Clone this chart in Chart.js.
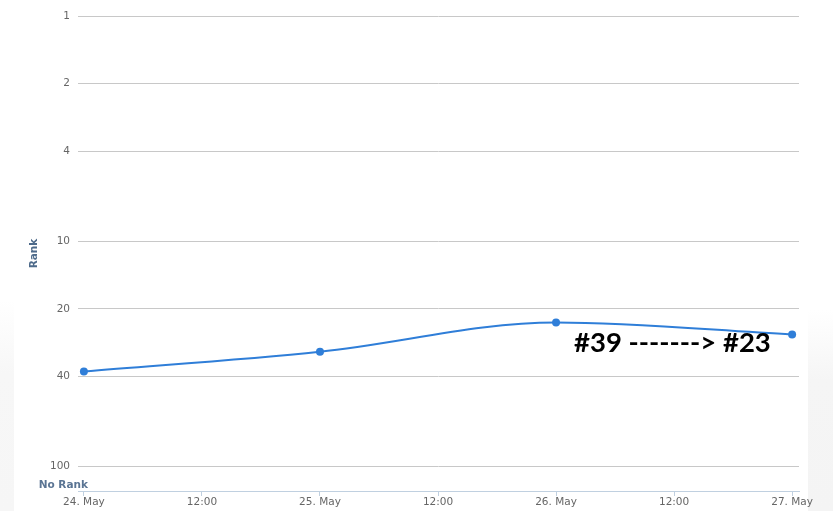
<!DOCTYPE html>
<html>
<head>
    <title>Rank</title>
    <script src="https://cdn.jsdelivr.net/npm/chart.js"></script>
    <style>
        body { margin: 0; background: #fff; }
        .wrap { position: relative; width: 833px; height: 511px; overflow: hidden; }
        .shade-right { position: absolute; left: 808px; top: 310px; width: 25px; height: 201px;
            background: linear-gradient(to bottom, #fff, #f5f5f5 35%, #f4f4f4); }
        .shade-left { position: absolute; left: 0; top: 300px; width: 14px; height: 211px;
            background: linear-gradient(to bottom, #fff, #f7f7f7 35%, #f6f6f6); }
        canvas { position: absolute; left: 0; top: 0; }
        .note { position: absolute; left: 574px; top: 325px; font-family: Lato, sans-serif;
            font-weight: bold; font-size: 27.5px; color: #000; white-space: nowrap; }
    </style>
</head>
<body>
    <div class="wrap">
        <div class="shade-right"></div>
        <div class="shade-left"></div>
        <canvas id="myChart" width="833" height="511"></canvas>
        <div class="note">#39 -------&gt; #23</div>
    </div>

    <script>
        // datos (horas desde 24. May)
        const hours = [0, 24, 48, 72];
        const ranks = [38, 31, 23, 26];
        const xTickValues = [0, 12, 24, 36, 48, 60, 72];
        const xTickLabels = ['24. May', '12:00', '25. May', '12:00', '26. May', '12:00', '27. May'];
        const yTickValues = [1, 2, 4, 10, 20, 40, 100];
        const noRankValue = 120;

        // etiqueta "No Rank" bajo el 100
        const noRankLabel = {
            id: 'noRankLabel',
            afterDraw(chart) {
                const y = chart.scales.y;
                const ctx = chart.ctx;
                ctx.save();
                ctx.font = 'bold 10.5px "DejaVu Sans"';
                ctx.fillStyle = '#5a7493';
                ctx.textAlign = 'right';
                ctx.textBaseline = 'middle';
                ctx.fillText('No Rank', y.right + 10, y.getPixelForValue(noRankValue) + 1);
                ctx.restore();
            }
        };

        var ctx = document.getElementById('myChart').getContext('2d');
        var myChart = new Chart(ctx, {
            type: 'line',
            data: {
                datasets: [{
                    data: hours.map((h, i) => ({ x: h, y: ranks[i] })),
                    borderColor: '#2f7ed8',
                    backgroundColor: '#2f7ed8',
                    borderWidth: 2,
                    pointRadius: 4,
                    pointBorderWidth: 0,
                    cubicInterpolationMode: 'monotone',
                    fill: false
                }]
            },
            options: {
                responsive: false,
                animation: false,
                layout: { padding: { left: 24, top: 16, right: 34, bottom: 0 } },
                plugins: { legend: { display: false }, tooltip: { enabled: false } },
                scales: {
                    x: {
                        type: 'linear',
                        min: -0.6,
                        max: 72.7,
                        afterBuildTicks: scale => { scale.ticks = xTickValues.map(v => ({ value: v })); },
                        afterFit: scale => { scale.height = 20; },
                        border: { display: true, color: '#c0d0e0', width: 1 },
                        grid: { drawOnChartArea: false, drawTicks: true, tickLength: 5, color: '#c0d0e0' },
                        ticks: {
                            maxRotation: 0,
                            autoSkip: false,
                            padding: 0,
                            color: '#666',
                            font: { family: 'DejaVu Sans', size: 10.5 },
                            callback: (v) => xTickLabels[xTickValues.indexOf(v)]
                        }
                    },
                    y: {
                        type: 'logarithmic',
                        reverse: true,
                        min: 1,
                        max: 129,
                        afterBuildTicks: scale => { scale.ticks = yTickValues.map(v => ({ value: v })); },
                        afterFit: scale => { scale.width = 54; },
                        border: { display: false },
                        grid: { drawTicks: false, color: '#c8c8c8' },
                        ticks: {
                            padding: 8,
                            color: '#666',
                            font: { family: 'DejaVu Sans', size: 10.5 },
                            callback: v => String(v)
                        },
                        title: {
                            display: true,
                            text: 'Rank',
                            color: '#4d6a8a',
                            font: { family: 'DejaVu Sans', size: 10.5, weight: 'bold' }
                        }
                    }
                }
            },
            plugins: [noRankLabel]
        });
    </script>
</body>
</html>
